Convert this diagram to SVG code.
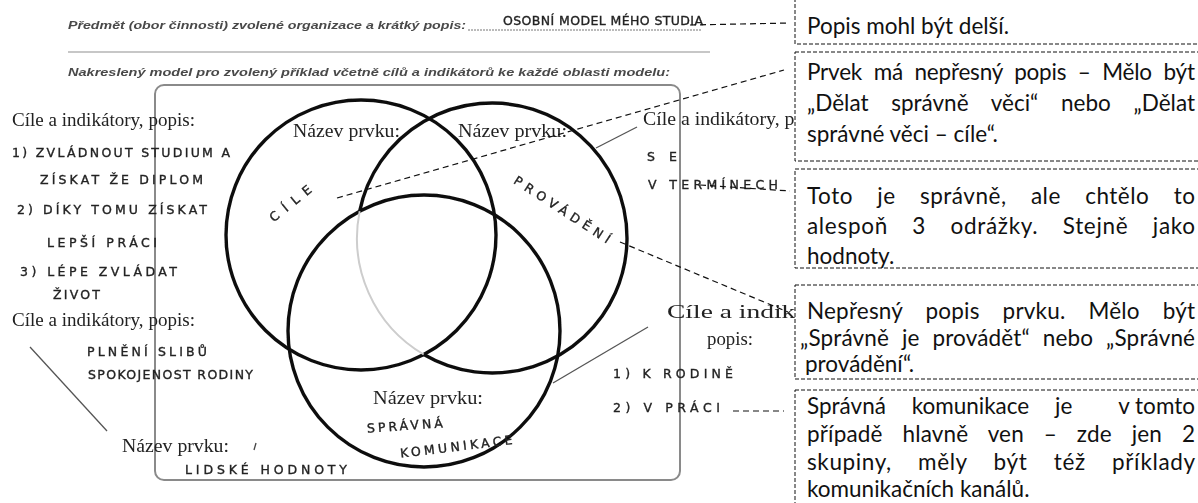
<svg xmlns="http://www.w3.org/2000/svg" width="1198" height="503" viewBox="0 0 1198 503">
  <defs>
    <style>
      .print { font-family: "Liberation Sans", Arial, sans-serif; font-style: italic; font-weight: bold; font-size: 11px; fill: #4a4a4a; }
      .serif { font-family: "Liberation Serif", "Times New Roman", serif; font-size: 18px; fill: #222; }
      .hand { font-family: "DejaVu Sans", sans-serif; font-size: 12.5px; fill: #222; stroke: #222; stroke-width: 0.35; }
      .ring { fill: none; stroke: #111; stroke-width: 3.4; }
      .faint { fill: none; stroke: #cdcdcd; stroke-width: 2; }
      .pen { fill: none; stroke: #555; stroke-width: 1.3; }
      .lead { fill: none; stroke: #111; stroke-width: 1.2; stroke-dasharray: 6 4; }
      .box { fill: #fff; stroke: #111; stroke-width: 1; stroke-dasharray: 4 2; }
      .note { font-family: Lato, "Open Sans", sans-serif; font-size: 22.5px; fill: #111; }
    </style>
    <filter id="soft" x="-5%" y="-5%" width="110%" height="110%">
      <feGaussianBlur stdDeviation="0.45"/>
    </filter>
    <clipPath id="clip4">
      <rect x="795" y="285" width="410" height="90"/>
    </clipPath>
  </defs>

  <rect width="1198" height="503" fill="#fff"/>

  <!-- scanned form sheet -->
  <g id="sheet" filter="url(#soft)">
    <g id="header">
      <text class="print" x="68" y="29" textLength="398" lengthAdjust="spacingAndGlyphs">Předmět (obor činnosti) zvolené organizace a krátký popis:</text>
      <line x1="468" y1="30" x2="702" y2="30" stroke="#777" stroke-width="1" stroke-dasharray="2 1"/>
      <text class="hand" x="503" y="25" textLength="200" lengthAdjust="spacing">OSOBNÍ MODEL MÉHO STUDIA</text>
      <line x1="68" y1="52" x2="710" y2="52" stroke="#b5b5b5" stroke-width="1.5"/>
      <text class="print" x="68" y="76" textLength="602" lengthAdjust="spacingAndGlyphs">Nakreslený model pro zvolený příklad včetně cílů a indikátorů ke každé oblasti modelu:</text>
    </g>

    <rect id="frame" x="155" y="85" width="525" height="395" rx="9" fill="none" stroke="#8a8a8a" stroke-width="2"/>

    <g id="venn">
      <ellipse class="ring" cx="361" cy="235" rx="135" ry="135"/>
      <ellipse class="ring" cx="424" cy="331" rx="136" ry="136"/>
      <path class="faint" d="M359.7,211.1 A135,135 0 0 0 423.8,354.5"/>
      <path class="ring" d="M423.8,354.5 A135,135 0 1 0 359.7,211.1"/>
    </g>

    <g id="node-cile">
      <text class="serif" x="293" y="137" textLength="107" lengthAdjust="spacingAndGlyphs">Název prvku:</text>
      <text class="hand" font-size="14" transform="translate(290,203) rotate(-39)" x="-25" y="5" textLength="50" lengthAdjust="spacing">CÍLE</text>
    </g>

    <g id="node-provadeni">
      <text class="serif" x="458" y="137" textLength="109" lengthAdjust="spacingAndGlyphs">Název prvku:</text>
      <text class="hand" font-size="13" transform="translate(562,210) rotate(33)" x="-56" y="4" textLength="112" lengthAdjust="spacing">PROVÁDĚNÍ</text>
    </g>

    <g id="node-komunikace">
      <text class="serif" x="373" y="404" textLength="110" lengthAdjust="spacingAndGlyphs">Název prvku:</text>
      <text class="hand" transform="rotate(-4 405 428)" x="367" y="430" textLength="76" lengthAdjust="spacing">SPRÁVNÁ</text>
      <text class="hand" transform="rotate(-7 456 448)" x="400" y="451" textLength="113" lengthAdjust="spacing">KOMUNIKACE</text>
    </g>

    <g id="node-hodnoty">
      <text class="serif" x="122" y="452" textLength="107" lengthAdjust="spacingAndGlyphs">Název prvku:</text>
      <line x1="256" y1="443" x2="254" y2="450" stroke="#444" stroke-width="1.3"/>
      <text class="hand" x="185" y="474" textLength="162" lengthAdjust="spacing">LIDSKÉ HODNOTY</text>
    </g>

    <g id="goals-cile">
      <text class="serif" x="12" y="126" textLength="183" lengthAdjust="spacingAndGlyphs">Cíle a indikátory, popis:</text>
      <text class="hand" x="12" y="157" textLength="218" lengthAdjust="spacing">1) ZVLÁDNOUT STUDIUM A</text>
      <text class="hand" x="40" y="184" textLength="163" lengthAdjust="spacing">ZÍSKAT ŽE DIPLOM</text>
      <text class="hand" x="17" y="214" textLength="190" lengthAdjust="spacing">2) DÍKY TOMU ZÍSKAT</text>
      <text class="hand" x="47" y="247" textLength="110" lengthAdjust="spacing">LEPŠÍ PRÁCI</text>
      <text class="hand" x="20" y="276" textLength="157" lengthAdjust="spacing">3) LÉPE ZVLÁDAT</text>
      <text class="hand" x="53" y="299" textLength="47" lengthAdjust="spacing">ŽIVOT</text>
    </g>

    <g id="goals-hodnoty">
      <text class="serif" x="12" y="326" textLength="183" lengthAdjust="spacingAndGlyphs">Cíle a indikátory, popis:</text>
      <text class="hand" x="87" y="356" textLength="120" lengthAdjust="spacing">PLNĚNÍ SLIBŮ</text>
      <text class="hand" x="88" y="379" textLength="165" lengthAdjust="spacing">SPOKOJENOST RODINY</text>
      <line class="pen" x1="30" y1="347" x2="107" y2="431"/>
    </g>

    <g id="goals-provadeni">
      <text class="serif" x="643" y="125" textLength="190" lengthAdjust="spacingAndGlyphs">Cíle a indikátory, popis:</text>
      <text class="hand" x="647" y="161" font-size="14" textLength="30" lengthAdjust="spacing">SE</text>
      <text class="hand" x="648" y="189" textLength="130" lengthAdjust="spacing">V TERMÍNECH</text>
      <line class="pen" x1="596" y1="148" x2="637" y2="127"/>
    </g>

    <g id="goals-komunikace">
      <text class="serif" x="667" y="318" textLength="190" lengthAdjust="spacingAndGlyphs">Cíle a indikátory,</text>
      <text class="serif" x="707" y="345" textLength="46" lengthAdjust="spacingAndGlyphs">popis:</text>
      <text class="hand" x="613" y="378" textLength="120" lengthAdjust="spacing">1) K RODINĚ</text>
      <text class="hand" x="613" y="412" textLength="107" lengthAdjust="spacing">2) V PRÁCI</text>
      <line class="pen" x1="553" y1="383" x2="648" y2="327"/>
    </g>
  </g>

  <!-- dashed leaders from the sheet to the notes -->
  <g id="connectors">
    <line class="lead" x1="690" y1="25" x2="790" y2="23"/>
    <line class="lead" x1="337" y1="198" x2="784" y2="70"/>
    <line class="lead" x1="700" y1="185" x2="790" y2="191"/>
    <line class="lead" x1="620" y1="242" x2="788" y2="312"/>
    <line class="lead" x1="733" y1="411" x2="784" y2="411"/>
  </g>

  <!-- review notes; justified lines use word spacing plus a fixed line length -->
  <g id="note-1">
    <rect class="box" x="795" y="-10" width="420" height="54"/>
    <text class="note" x="807" y="34">Popis mohl být delší.</text>
  </g>

  <g id="note-2">
    <rect class="box" x="795" y="52" width="420" height="109"/>
    <text class="note" x="807" y="80" word-spacing="6" textLength="388" lengthAdjust="spacing">Prvek má nepřesný popis – Mělo být</text>
    <text class="note" x="807" y="111" word-spacing="17" textLength="388" lengthAdjust="spacing">„Dělat správně věci“ nebo „Dělat</text>
    <text class="note" x="807" y="142">správné věci – cíle“.</text>
  </g>

  <g id="note-3">
    <rect class="box" x="795" y="169" width="420" height="99"/>
    <text class="note" x="807" y="204" word-spacing="18" textLength="388" lengthAdjust="spacing">Toto je správně, ale chtělo to</text>
    <text class="note" x="807" y="234" word-spacing="18" textLength="388" lengthAdjust="spacing">alespoň 3 odrážky. Stejně jako</text>
    <text class="note" x="807" y="264">hodnoty.</text>
  </g>

  <g id="note-4">
    <rect class="box" x="795" y="285" width="420" height="94"/>
    <g clip-path="url(#clip4)">
      <text class="note" x="807" y="319" word-spacing="17" textLength="388" lengthAdjust="spacing">Nepřesný popis prvku. Mělo být</text>
      <text class="note" x="800" y="346" word-spacing="7" textLength="395" lengthAdjust="spacing">„Správně je provádět“ nebo „Správné</text>
      <text class="note" x="805" y="372">provádění“.</text>
    </g>
  </g>

  <g id="note-5">
    <rect class="box" x="795" y="390" width="420" height="130"/>
    <text class="note" x="807" y="414" word-spacing="20">Správná komunikace je</text>
    <text class="note" x="1195" y="414" text-anchor="end">v tomto</text>
    <text class="note" x="807" y="442" word-spacing="14" textLength="388" lengthAdjust="spacing">případě hlavně ven – zde jen 2</text>
    <text class="note" x="807" y="470" word-spacing="20" textLength="388" lengthAdjust="spacing">skupiny, měly být též příklady</text>
    <text class="note" x="807" y="497">komunikačních kanálů.</text>
  </g>
</svg>
